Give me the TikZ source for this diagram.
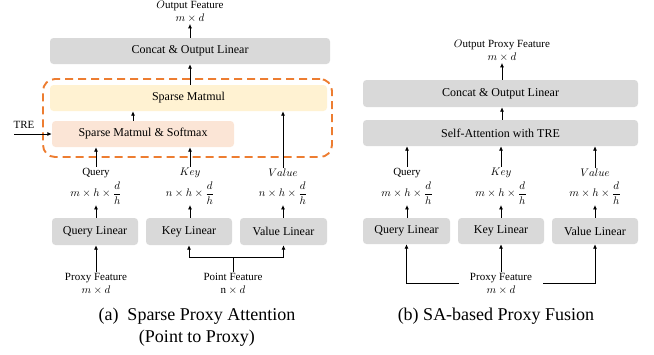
\documentclass[tikz,border=0pt]{standalone}
\usepackage{fontspec}
\setmainfont{Liberation Serif}
\usepackage{amsmath}
\usetikzlibrary{arrows.meta}
\definecolor{boxgray}{HTML}{D9D9D9}
\definecolor{mmyellow}{HTML}{FFF2D2}
\definecolor{smpeach}{HTML}{FBE5D6}
\definecolor{dashorange}{HTML}{ED7D31}
\begin{document}
\begin{tikzpicture}[x=1pt,y=-1pt,
  box/.style={rounded corners=3.5pt, draw=none, inner sep=0pt, font=\fontsize{12}{14}\selectfont, text=black},
  gbox/.style={box, fill=boxgray},
  ybox/.style={box, fill=mmyellow},
  pbox/.style={box, fill=smpeach},
  lbl/.style={font=\fontsize{11}{13}\selectfont, inner sep=1pt, align=center, text=black},
  dimlbl/.style={font=\fontsize{11}{13}\selectfont, inner sep=0.5pt, text=black},
  arr/.style={line width=1pt, -{Latex[length=4.5pt,width=4.2pt]}},
  ln/.style={line width=1pt},
  capt/.style={font=\fontsize{18}{22}\selectfont, align=center, text=black},
  dashbox/.style={draw=dashorange, line width=1.9pt, dash pattern=on 8pt off 5pt, rounded corners=12pt, inner sep=0pt}
]
\useasboundingbox (0,0) rectangle (654,354);

% ---------- left panel ----------
\node[lbl] (outA) at (190,12) {$O$utput Feature\\$m\times d$};
\node[gbox, minimum width=280pt, minimum height=26pt] (concatA) at (190,51) {Concat \& Output Linear};
\node[dashbox, minimum width=289pt, minimum height=78pt] (dash) at (187.5,118) {};
\node[ybox, minimum width=277pt, minimum height=26pt] (smm) at (188.5,98) {Sparse Matmul};
\node[pbox, minimum width=182pt, minimum height=26pt] (sms) at (143,134) {Sparse Matmul \& Softmax};
\node[lbl] (tre) at (24,125) {TRE};
\coordinate (trestart) at (14,134);

\coordinate (xmid) at (133,0);
\node[lbl] (qlabA) at (96,173) {Query};
\node[lbl] (klabA) at (190,173) {$Key$};
\node[lbl] (vlabA) at (283,173) {$Value$};
\node[dimlbl] (qdimA) at (96,193) {$m\times h\times \dfrac{d}{h}$};
\node[dimlbl] (kdimA) at (190,193) {$n\times h\times \dfrac{d}{h}$};
\node[dimlbl] (vdimA) at (283,193) {$n\times h\times \dfrac{d}{h}$};
\node[gbox, minimum width=86pt, minimum height=27pt] (qlinA) at (95,231.5) {Query Linear};
\node[gbox, minimum width=86pt, minimum height=27pt] (klinA) at (189,231.5) {Key Linear};
\node[gbox, minimum width=87pt, minimum height=27pt] (vlinA) at (283.5,231.5) {Value Linear};
\node[lbl] (pfA) at (96,284) {Proxy Feature\\$m\times d$};
\node[lbl] (ptfA) at (233,284) {Point Feature\\$\mathrm{n}\times d$};
\coordinate (bjA) at (233,257);
\node[capt] (capA) at (197,327) {(a)\ \ Sparse Proxy Attention\\(Point to Proxy)};

\draw[arr] (concatA.north) -- (outA.south);
\draw[arr] (smm.north -| concatA.north) -- (concatA.south);
\draw[arr] (trestart) -- (sms.west);
\draw[arr] (sms.north -| xmid) -- (smm.south -| xmid);
\draw[arr] (qlabA.north) -- (sms.south -| qlabA.north);
\draw[arr] (klabA.north) -- (sms.south -| klabA.north);
\draw[arr] (vlabA.north) -- (smm.south -| vlabA.north);
\draw[arr] (qlinA.north -| qdimA.south) -- (qdimA.south);
\draw[arr] (klinA.north -| kdimA.south) -- (kdimA.south);
\draw[arr] (vlinA.north -| vdimA.south) -- (vdimA.south);
\draw[arr] (pfA.north) -- (qlinA.south -| pfA.north);
\draw[ln] (ptfA.north) -- (bjA);
\draw[arr] (bjA) -| (klinA.south);
\draw[arr] (bjA) -| (vlinA.south);

% ---------- right panel ----------
\node[lbl] (outB) at (502,51) {$O$utput Proxy Feature\\$m\times d$};
\node[gbox, minimum width=275pt, minimum height=27pt] (concatB) at (500.5,93.5) {Concat \& Output Linear};
\node[gbox, minimum width=275pt, minimum height=26pt] (sat) at (500.5,133) {Self-Attention with TRE};
\node[lbl] (qlabB) at (407,173) {Query};
\node[lbl] (klabB) at (501,173) {$Key$};
\node[lbl] (vlabB) at (595,173) {$Value$};
\node[dimlbl] (qdimB) at (407,193) {$m\times h\times \dfrac{d}{h}$};
\node[dimlbl] (kdimB) at (501,193) {$m\times h\times \dfrac{d}{h}$};
\node[dimlbl] (vdimB) at (595,193) {$m\times h\times \dfrac{d}{h}$};
\node[gbox, minimum width=87pt, minimum height=26pt] (qlinB) at (406.5,231) {Query Linear};
\node[gbox, minimum width=86pt, minimum height=26pt] (klinB) at (501,231) {Key Linear};
\node[gbox, minimum width=86pt, minimum height=26pt] (vlinB) at (595,231) {Value Linear};
\node[lbl, inner xsep=11pt, inner ysep=1pt] (pfB) at (501,283.5) {Proxy Feature\\$m\times d$};
\node[capt] (capB) at (496,316) {(b) SA-based Proxy Fusion};

\draw[arr] (concatB.north -| outB.south) -- (outB.south);
\draw[arr] (sat.north -| outB.south) -- (concatB.south -| outB.south);
\draw[arr] (qlabB.north) -- (sat.south -| qlabB.north);
\draw[arr] (klabB.north) -- (sat.south -| klabB.north);
\draw[arr] (vlabB.north) -- (sat.south -| vlabB.north);
\draw[arr] (qlinB.north -| qdimB.south) -- (qdimB.south);
\draw[arr] (klinB.north -| kdimB.south) -- (kdimB.south);
\draw[arr] (vlinB.north -| vdimB.south) -- (vdimB.south);
\draw[arr] (pfB.north) -- (klinB.south);
\draw[arr] (pfB.west) -| (qlinB.south);
\draw[arr] (pfB.east) -| (vlinB.south);
\end{tikzpicture}
\end{document}
